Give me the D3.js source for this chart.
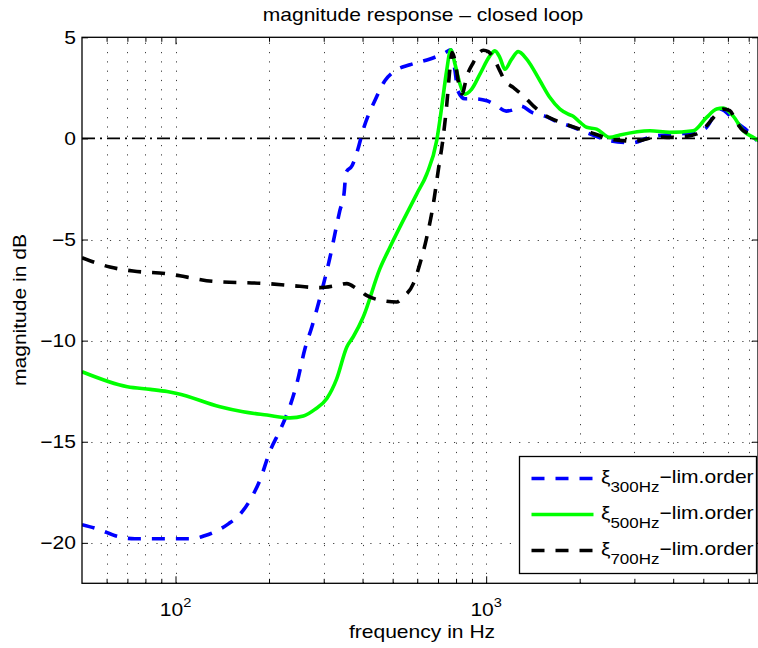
<!DOCTYPE html>
<html>
<head>
<meta charset="utf-8">
<title>magnitude response - closed loop</title>
<script src="https://cdn.jsdelivr.net/npm/d3@7"></script>
<style>
  body { margin: 0; background: #fff; }
  svg text { font-family: "Liberation Sans", Arial, Helvetica, sans-serif; fill: #000; }
</style>
</head>
<body>
<svg id="chart" width="758" height="648"></svg>
<script>
// frequency in Hz / magnitude in dB
var freq300 = [50, 57, 64, 74, 100, 113, 124, 134, 148, 161, 174, 187, 201, 219, 234, 246, 261, 275, 292, 314, 338, 349, 354, 370, 387, 401, 438, 472, 509, 568, 660, 737, 770, 794, 811, 855, 920, 1006, 1083, 1160, 1238, 1290, 1414, 1546, 1728, 1850, 2111, 2503, 2968, 3316, 3545, 4267, 5059, 5655, 6416, 6806, 7440]
var db300 = [-19.1, -19.35, -19.65, -19.8, -19.8, -19.8, -19.65, -19.45, -19.06, -18.6, -17.87, -16.9, -15.5, -14.3, -13.2, -12.1, -10.4, -9.3, -7.86, -5.9, -3.57, -2.68, -1.69, -1.35, -0.5, 0.38, 1.86, 2.85, 3.34, 3.64, 3.93, 4.23, 4.38, 3.34, 2.35, 1.96, 1.96, 1.86, 1.6, 1.35, 1.45, 1.6, 1.26, 1.1, 0.77, 0.63, 0.28, -0.11, -0.21, 0.03, 0.13, 0.23, 0.48, 1.46, 0.77, 0.48, -0.11]

var freq500 = [50, 70, 83, 94, 101, 139, 165, 197, 234, 258, 281, 307, 330, 356, 373, 402, 455, 490, 598, 644, 693, 719, 746, 769, 794, 824, 855, 898, 955, 1028, 1067, 1107, 1149, 1208, 1268, 1350, 1490, 1604, 1728, 1837, 1906, 2004, 2106, 2268, 2503, 2695, 3366, 3903, 4640, 5124, 5519, 5796, 6241, 6721, 7237, 7550]
var db500 = [-11.54, -12.28, -12.41, -12.52, -12.61, -13.27, -13.52, -13.68, -13.82, -13.73, -13.4, -12.86, -11.9, -10.31, -9.82, -8.83, -6.44, -5.38, -2.74, -1.76, -0.11, 1.53, 3.34, 4.38, 3.67, 2.68, 2.19, 2.44, 3.18, 4.08, 4.33, 4.0, 3.42, 3.92, 4.29, 3.92, 2.85, 2.02, 1.45, 1.2, 1.1, 0.8, 0.55, 0.46, 0.05, 0.17, 0.38, 0.3, 0.38, 1.04, 1.45, 1.5, 1.1, 0.38, 0.05, -0.11]

var freq700 = [50, 61.5, 73, 94, 109, 132, 197, 234, 292, 330, 356, 383, 412, 455, 515, 541, 583, 612, 644, 676, 701, 727, 746, 765, 776, 794, 813, 836, 867, 909, 941, 979, 1016, 1054, 1107, 1149, 1222, 1316, 1418, 1526, 1686, 1815, 2004, 2158, 2324, 2503, 2762, 2975, 3285, 3537, 3903, 4307, 4758, 5124, 5519, 5796, 6089, 6400, 6721, 7063, 7425]
var db700 = [-5.9, -6.36, -6.56, -6.69, -6.86, -7.07, -7.18, -7.27, -7.38, -7.27, -7.18, -7.43, -7.76, -8.0, -8.09, -7.84, -7.18, -6.2, -4.88, -3.24, -1.59, 0.05, 1.6, 3.5, 4.24, 3.83, 2.85, 2.2, 3.09, 3.75, 4.16, 4.36, 4.29, 4.0, 3.34, 2.85, 2.52, 2.11, 1.61, 1.2, 0.87, 0.68, 0.46, 0.3, 0.13, -0.03, -0.11, -0.15, -0.03, 0.08, 0.05, 0.08, 0.22, 0.63, 1.2, 1.45, 1.37, 0.79, 0.38, 0.22, -0.03]

var yTicks = [-20, -15, -10, -5, 0, 5]
var xMajor = [100, 1000]
var xMinor = [60, 70, 80, 90, 200, 300, 400, 500, 600, 700, 800, 900, 2000, 3000, 4000, 5000, 6000, 7000]
var seriesNames = ["300Hz", "500Hz", "700Hz"]
var seriesColors = ["#0000ff", "#00ff00", "#000000"]
var seriesDash = ["13,11", null, "13,11"]

var WIDE = 1.17   // the reference glyphs are wider than Liberation Sans
var box = { left: 82, right: 758, top: 37.3, bottom: 583.3 }

var svg = d3.select("#chart")
var x = d3.scaleLog().domain([50, 7500]).range([box.left, box.right])
var y = d3.scaleLinear().domain([-22, 5]).range([box.bottom, box.top])

// text helper, stretched along the reading direction
function label(px, py, str, size, anchor, rot) {
    var t = svg.append("text")
        .attr("transform", "translate(" + px + "," + py + ")" + (rot ? " rotate(" + rot + ")" : "") + " scale(" + WIDE + ",1)")
        .attr("text-anchor", anchor || "start")
        .style("font-size", size + "px")
    if (str != null) t.text(str)
    return t
}

svg.append("clipPath").attr("id", "plotclip").append("rect")
    .attr("x", box.left).attr("y", box.top)
    .attr("width", box.right - box.left).attr("height", box.bottom - box.top)

// dotted grid
var grid = svg.append("g").attr("stroke", "#000").attr("stroke-width", 1)
    .attr("stroke-dasharray", "1.2,8.1").attr("opacity", 0.75)
grid.selectAll(".gx").data(xMinor.concat(xMajor)).enter().append("line")
    .attr("x1", function (d) { return Math.round(x(d)) + 0.5 })
    .attr("x2", function (d) { return Math.round(x(d)) + 0.5 })
    .attr("y1", box.bottom).attr("y2", box.top)
grid.selectAll(".gy").data(yTicks.filter(function (d) { return d != 0 && d != 5 })).enter().append("line")
    .attr("x1", box.left).attr("x2", box.right)
    .attr("y1", function (d) { return Math.round(y(d)) + 0.5 })
    .attr("y2", function (d) { return Math.round(y(d)) + 0.5 })

// zero reference, dash-dot
svg.append("line")
    .attr("x1", box.left).attr("x2", box.right)
    .attr("y1", y(0)).attr("y2", y(0))
    .attr("stroke", "#000").attr("stroke-width", 1.6)
    .attr("stroke-dasharray", "13,5,2,5")

// curves
var line = d3.line()
    .x(function (d) { return x(d[0]) })
    .y(function (d) { return y(d[1]) })
    .curve(d3.curveMonotoneX)

var series = [d3.zip(freq300, db300), d3.zip(freq500, db500), d3.zip(freq700, db700)]
var curves = svg.append("g").attr("clip-path", "url(#plotclip)")
series.forEach(function (s, i) {
    curves.append("path")
        .attr("d", line(s))
        .attr("fill", "none")
        .attr("stroke", seriesColors[i])
        .attr("stroke-width", 3.6)
        .attr("stroke-dasharray", seriesDash[i])
})

// axes box and ticks (ticks inside, MATLAB style)
var axes = svg.append("g")
function tickAxis(axis, ty, vals, len) {
    axes.append("g").attr("transform", "translate(0," + ty + ")")
        .call(axis.tickValues(vals).tickSizeInner(-len).tickSizeOuter(0).tickFormat(""))
}
tickAxis(d3.axisBottom(x), box.bottom, xMinor, 4.5)
tickAxis(d3.axisBottom(x), box.bottom, xMajor, 7)
tickAxis(d3.axisTop(x), box.top, xMinor, 4.5)
tickAxis(d3.axisTop(x), box.top, xMajor, 7)
axes.append("g").attr("transform", "translate(" + box.left + ",0)")
    .call(d3.axisLeft(y).tickValues(yTicks).tickSizeInner(-6).tickSizeOuter(0).tickFormat(""))
axes.append("g").attr("transform", "translate(" + box.right + ",0)")
    .call(d3.axisRight(y).tickValues(yTicks).tickSizeInner(-6).tickSizeOuter(0).tickFormat(""))
axes.selectAll(".domain").remove()
axes.selectAll("line").attr("stroke", "#000").attr("stroke-width", 1)
axes.append("rect")
    .attr("x", box.left).attr("y", box.top)
    .attr("width", box.right - box.left).attr("height", box.bottom - box.top)
    .attr("fill", "none").attr("stroke", "#000").attr("stroke-width", 1.3)

// tick labels
yTicks.forEach(function (d) {
    label(76, y(d) + 6.5, d < 0 ? "\u2212" + Math.abs(d) : String(d), 18, "end")
})
xMajor.forEach(function (d) {
    var t = label(x(d), 615.5, null, 18, "middle")
    t.append("tspan").text("10")
    t.append("tspan").attr("dy", -9).style("font-size", "12.5px").text(Math.log10(d))
})

// titles
label(423, 20.5, "magnitude response \u2013 closed loop", 18, "middle")
label(422, 638, "frequency in Hz", 18, "middle")
label(26, 310, "magnitude in dB", 18, "middle", -90)

// legend
var leg = { x: 519.5, y: 456.5, w: 237, h: 117 }
svg.append("rect")
    .attr("x", leg.x).attr("y", leg.y).attr("width", leg.w).attr("height", leg.h)
    .attr("fill", "#fff").attr("stroke", "#000").attr("stroke-width", 1.3)
var rowY = [478.5, 514.5, 550.5]
seriesNames.forEach(function (name, i) {
    svg.append("line")
        .attr("x1", 531.5).attr("x2", 593.5)
        .attr("y1", rowY[i]).attr("y2", rowY[i])
        .attr("stroke", seriesColors[i]).attr("stroke-width", 3.6)
        .attr("stroke-dasharray", seriesDash[i])
    var t = label(601, rowY[i] + 4.5, null, 18, "start")
    t.append("tspan").text("\u03be")
    t.append("tspan").attr("dy", 9).style("font-size", "14.5px").text(name)
    t.append("tspan").attr("dy", -9).text("\u2212lim.order")
})
</script>
</body>
</html>
